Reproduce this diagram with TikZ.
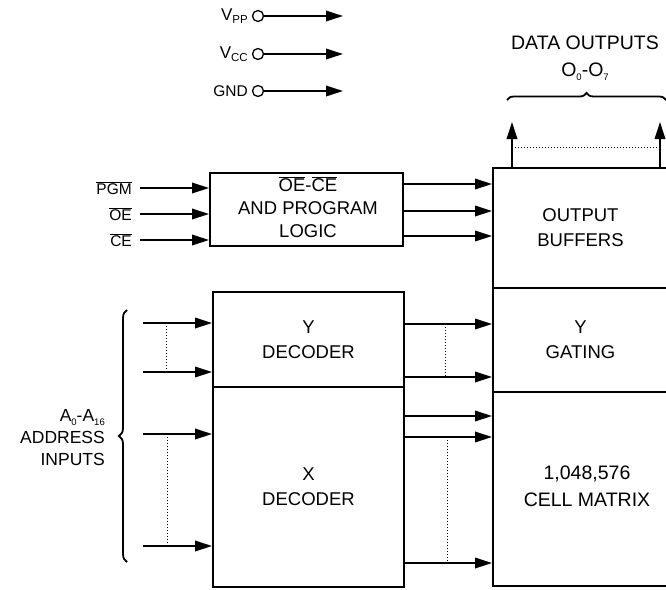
\documentclass[tikz,border=0pt]{standalone}
\usepackage{fontspec}
\setmainfont{Liberation Sans}
\usetikzlibrary{arrows.meta,decorations.pathreplacing}
\newcommand\sbs[1]{\raisebox{-0.35ex}{\fontsize{9.5}{9.5}\selectfont #1}}
\newcommand\sbl[1]{\raisebox{-0.3ex}{\fontsize{11.5}{11.5}\selectfont #1}}
\newcommand\ovl[1]{$\overline{\mbox{#1}}$}
\begin{document}
\begin{tikzpicture}[x=1pt,y=-1pt,
  box/.style={draw, line width=1.9pt, inner sep=0pt, align=center, font=\fontsize{18.5}{25}\selectfont},
  txt/.style={align=center, inner sep=0pt, font=\fontsize{18.5}{23}\selectfont},
  ln/.style={line width=1.8pt},
  arr/.style={line width=1.8pt, -{Triangle[length=17pt,width=10.5pt]}},
  dots/.style={line width=1pt, dotted},
  lbl/.style={font=\fontsize{15.5}{18}\selectfont, inner sep=0pt},
  pin/.style={draw, circle, line width=1.3pt, minimum size=11pt, inner sep=0pt},
]
\clip (0,0) rectangle (666,589);
% supply pins
\node[lbl, anchor=east, font=\fontsize{17}{18}\selectfont] (vpp) at (248,16) {V\sbl{PP}};
\node[lbl, anchor=east, font=\fontsize{17}{18}\selectfont] (vcc) at (248,54) {V\sbl{CC}};
\node[lbl, anchor=east] (gnd) at (248,91) {GND};
\node[pin] (cpp) at (258,16) {};
\node[pin] (ccc) at (258,54) {};
\node[pin] (cgn) at (258,91) {};
\coordinate (epp) at (343,16);
\coordinate (ecc) at (343,54);
\coordinate (egn) at (343,91);
\draw[arr] (cpp) -- (epp);
\draw[arr] (ccc) -- (ecc);
\draw[arr] (cgn) -- (egn);
% boxes
\node[box, minimum width=193pt, minimum height=73pt] (logic) at (306.5,209.5) {};
\node[txt] (logict) at (308,207) {\ovl{OE}-\ovl{CE}\\AND PROGRAM\\LOGIC};
\node[box, minimum width=191pt, minimum height=95pt] (yd) at (308.5,339.5) {Y\\DECODER};
\node[box, minimum width=191pt, minimum height=200pt] (xd) at (308.5,487) {X\\DECODER};
\node[box, minimum width=175pt, minimum height=120pt] (ob) at (580.5,228) {OUTPUT\\BUFFERS};
\node[box, minimum width=175pt, minimum height=104pt] (yg) at (580.5,340) {Y\\GATING};
\node[box, minimum width=175pt, minimum height=194pt] (cm) at (580.5,489) {};
\node[txt, font=\fontsize{19.5}{27}\selectfont] (cmt) at (587,486) {1,048,576\\CELL MATRIX};
% data outputs
\node[align=center, inner sep=0pt, font=\fontsize{19.5}{27}\selectfont] (dout) at (585,58) {DATA OUTPUTS\\O\sbs{0}-O\sbs{7}};
\draw[ln, decorate, decoration={brace, amplitude=7pt}] (507,100) -- (666,100);
\coordinate (o0) at (512,122);
\coordinate (o7) at (660,122);
\draw[arr] (ob.north -| o0) -- (o0);
\draw[arr] (ob.north -| o7) -- (o7);
\draw[dots] (512,147) -- (660,147);
% control inputs
\node[lbl, anchor=east] (pgm) at (132,188) {\ovl{PGM}};
\node[lbl, anchor=east] (oe) at (132,214) {\ovl{OE}};
\node[lbl, anchor=east] (ce) at (132,240) {\ovl{CE}};
\coordinate (i1) at (140,188);
\coordinate (i2) at (140,214);
\coordinate (i3) at (140,240);
\draw[arr] (i1) -- (logic.west |- i1);
\draw[arr] (i2) -- (logic.west |- i2);
\draw[arr] (i3) -- (logic.west |- i3);
% logic outputs
\coordinate (l1) at (0,184);
\coordinate (l2) at (0,211);
\coordinate (l3) at (0,236);
\draw[arr] (logic.east |- l1) -- (ob.west |- l1);
\draw[arr] (logic.east |- l2) -- (ob.west |- l2);
\draw[arr] (logic.east |- l3) -- (ob.west |- l3);
% address inputs
\node[anchor=east, align=right, font=\fontsize{17.5}{22}\selectfont, inner sep=0pt] (addr) at (105,438) {A\sbs{0}-A\sbs{16}\\ADDRESS\\INPUTS};
\draw[ln, decorate, decoration={brace, amplitude=8pt}] (127,562) -- (127,310);
\coordinate (a1) at (143,323);
\coordinate (a2) at (143,372);
\coordinate (a3) at (143,434);
\coordinate (a4) at (143,546);
\draw[arr] (a1) -- (yd.west |- a1);
\draw[arr] (a2) -- (yd.west |- a2);
\draw[arr] (a3) -- (xd.west |- a3);
\draw[arr] (a4) -- (xd.west |- a4);
\draw[dots] (166,323) -- (166,372);
\draw[dots] (167,434) -- (167,546);
% decoder outputs
\coordinate (d1) at (0,324);
\coordinate (d2) at (0,377);
\coordinate (d3) at (0,416);
\coordinate (d4) at (0,437);
\coordinate (d5) at (0,563);
\draw[arr] (yd.east |- d1) -- (yg.west |- d1);
\draw[arr] (yd.east |- d2) -- (yg.west |- d2);
\draw[arr] (xd.east |- d3) -- (cm.west |- d3);
\draw[arr] (xd.east |- d4) -- (cm.west |- d4);
\draw[arr] (xd.east |- d5) -- (cm.west |- d5);
\draw[dots] (445,324) -- (445,377);
\draw[dots] (447,437) -- (447,563);
\end{tikzpicture}
\end{document}
